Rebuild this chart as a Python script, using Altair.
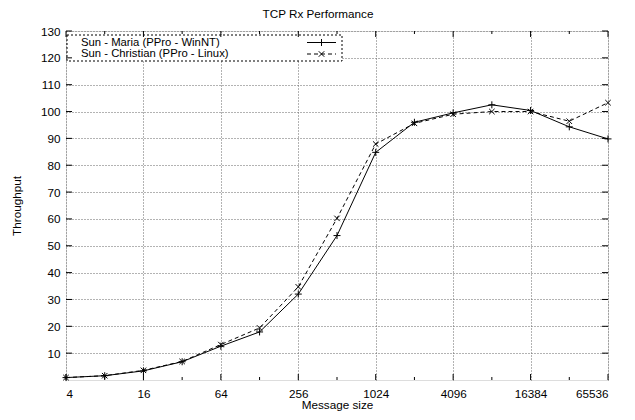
import altair as alt
import pandas as pd

# Message sizes (bytes) and measured throughput for each host pair
sizes = [4, 8, 16, 32, 64, 128, 256, 512, 1024, 2048, 4096, 8192, 16384, 32768, 65536]
maria = [0.9, 1.6, 3.4, 6.8, 12.6, 17.9, 32.0, 53.8, 84.8, 96.0, 99.5, 102.5, 100.4, 94.3, 89.8]
christian = [0.9, 1.6, 3.6, 6.9, 13.2, 19.4, 34.7, 60.2, 87.9, 95.6, 99.0, 100.0, 100.0, 96.4, 103.3]

series_names = ["Sun - Maria (PPro - WinNT)", "Sun - Christian (PPro - Linux)"]

x_major = [4, 16, 64, 256, 1024, 4096, 16384, 65536]
x_minor = [8, 32, 128, 512, 2048, 8192, 32768]
y_ticks = [10, 20, 30, 40, 50, 60, 70, 80, 90, 100, 110, 120, 130]

W, H = 542, 349
FONT = "Liberation Sans"
FS = 11.7
LEG_FS = 11.3
PLUS = "M-1,0L1,0M0,-1L0,1"
CROSS = "M-1,-1L1,1M-1,1L1,-1"

df_m = pd.DataFrame({"size": sizes, "tput": maria})
df_c = pd.DataFrame({"size": sizes, "tput": christian})

xscale = alt.Scale(type="log", base=2, domain=[4, 65536])
yscale = alt.Scale(domain=[0, 130], nice=False, zero=False)

common_axis = dict(ticks=False, domain=False, labelOverlap=False, labelBound=False,
                   grid=True, gridDash=[1, 2], gridColor="#666",
                   labelFont=FONT, titleFont=FONT, labelFontSize=FS, titleFontSize=FS,
                   titleFontWeight="normal", labelColor="black", titleColor="black")

x_enc = alt.X(
    "size:Q", scale=xscale, title="Message size",
    axis=alt.Axis(values=x_major, tickCount=len(x_major) + 2, format="d",
                  labelPadding=8, titlePadding=0, **common_axis),
)
y_enc = alt.Y(
    "tput:Q", scale=yscale, title="Throughput",
    axis=alt.Axis(values=y_ticks, tickCount=len(y_ticks) + 2,
                  labelPadding=6, titlePadding=18, **common_axis),
)

# Legend box (drawn over the grid)
legend_box = alt.Chart(pd.DataFrame({"a": [0]})).mark_rect(
    fill="white", stroke="black", strokeWidth=1, strokeDash=[2, 2]
).encode(x=alt.value(1), x2=alt.value(276), y=alt.value(4), y2=alt.value(30))

line_m = alt.Chart(df_m).mark_line(color="black", strokeWidth=1).encode(x=x_enc, y=y_enc)
pts_m = alt.Chart(df_m).mark_point(shape=PLUS, filled=False, color="black",
                                   strokeWidth=1, size=49, opacity=1).encode(x="size:Q", y="tput:Q")
line_c = alt.Chart(df_c).mark_line(color="black", strokeWidth=1, strokeDash=[4, 3]).encode(
    x="size:Q", y="tput:Q")
pts_c = alt.Chart(df_c).mark_point(shape=CROSS, filled=False, color="black",
                                   strokeWidth=1, size=30, opacity=1).encode(x="size:Q", y="tput:Q")

# Legend entries: label on the left, line sample with marker on the right
leg_layers = []
for i, (name, dash, shp, sz) in enumerate([(series_names[0], [1, 0], PLUS, 49),
                                            (series_names[1], [4, 3], CROSS, 30)]):
    yy = 11.5 + i * 11.5
    one = pd.DataFrame({"label": [name]})
    leg_layers.append(alt.Chart(one).mark_text(align="left", baseline="middle", font=FONT,
                                               fontSize=LEG_FS, color="black").encode(
        x=alt.value(15), y=alt.value(yy), text="label:N"))
    leg_layers.append(alt.Chart(one).mark_rule(color="black", strokeWidth=1, strokeDash=dash).encode(
        x=alt.value(241), x2=alt.value(270), y=alt.value(yy)))
    leg_layers.append(alt.Chart(one).mark_point(shape=shp, filled=False, color="black",
                                                strokeWidth=1, size=sz, opacity=1).encode(
        x=alt.value(255.5), y=alt.value(yy)))

# Inward tick marks on all four sides
xmaj = pd.DataFrame({"size": x_major})
xmin = pd.DataFrame({"size": x_minor})
yt = pd.DataFrame({"tput": y_ticks})
tick_layers = [
    alt.Chart(xmaj).mark_rule(color="black").encode(x="size:Q", y=alt.value(H), y2=alt.value(H - 6)),
    alt.Chart(xmaj).mark_rule(color="black").encode(x="size:Q", y=alt.value(0), y2=alt.value(6)),
    alt.Chart(xmin).mark_rule(color="black").encode(x="size:Q", y=alt.value(H), y2=alt.value(H - 3)),
    alt.Chart(xmin).mark_rule(color="black").encode(x="size:Q", y=alt.value(0), y2=alt.value(3)),
    alt.Chart(yt).mark_rule(color="black").encode(y="tput:Q", x=alt.value(0), x2=alt.value(6)),
    alt.Chart(yt).mark_rule(color="black").encode(y="tput:Q", x=alt.value(W), x2=alt.value(W - 6)),
]

chart = alt.layer(
    line_m, legend_box, pts_m, line_c, pts_c, *leg_layers, *tick_layers
).properties(
    width=W, height=H,
    title=alt.TitleParams("TCP Rx Performance", font=FONT, fontSize=FS, fontWeight="normal",
                          anchor="middle", offset=5, dx=-19, color="black"),
    autosize=alt.AutoSizeParams(type="none"),
    padding={"left": 66, "top": 31, "right": 27, "bottom": 40},
).configure_view(
    stroke="black", strokeWidth=1.5
).configure(background="white")

chart.save("out.html", embed_options={"renderer": "svg", "actions": False})
